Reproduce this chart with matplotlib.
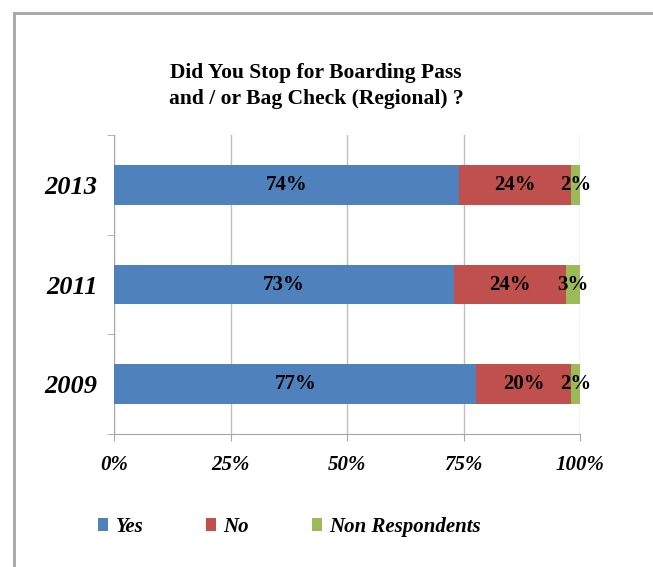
import matplotlib
matplotlib.use("Agg")
import matplotlib.pyplot as plt
from matplotlib.lines import Line2D
from matplotlib.patches import Patch
import numpy as np

years = ["2009", "2011", "2013"]
yes = [77, 73, 74]
no = [20, 24, 24]
non_resp = [2, 3, 2]

series_names = ["Yes", "No", "Non Respondents"]
colors = ["#4F81BD", "#C0504D", "#9BBB59"]

plt.rcParams["font.family"] = "Liberation Serif"

fig = plt.figure(figsize=(6.53, 5.67), dpi=100)
ax = fig.add_axes([114 / 653, 1 - 434 / 567, 466 / 653, 299 / 567])

# 100% stacked: each row scaled to its total
raw = np.array([yes, no, non_resp], dtype=float)
totals = raw.sum(axis=0)
shares = raw / totals * 100

ypos = np.arange(len(years))
left = np.zeros(len(years))
for i in range(len(series_names)):
    ax.barh(ypos, shares[i], left=left, height=0.4, color=colors[i],
            zorder=3, label=series_names[i])
    for j in range(len(years)):
        ax.text(left[j] + shares[i][j] / 2, ypos[j], f"{int(raw[i][j])}%",
                ha="center", va="center", fontsize=15, fontweight="bold",
                color="black", zorder=4)
    left += shares[i]

ax.set_xlim(0, 100)
ax.set_ylim(-0.5, 2.5)
ax.set_xticks([0, 25, 50, 75, 100])
ax.set_xticklabels(["0%", "25%", "50%", "75%", "100%"], fontsize=15,
                   fontweight="bold", fontstyle="italic")
ax.set_yticks(ypos)
ax.set_yticklabels(years, fontsize=19, fontweight="bold", fontstyle="italic")
ax.set_yticks([-0.5, 0.5, 1.5, 2.5], minor=True)

ax.tick_params(axis="y", which="major", length=0, pad=12)
ax.tick_params(axis="y", which="minor", length=5, color="#A6A6A6", direction="out")
ax.tick_params(axis="x", length=5, color="#A6A6A6", direction="out", pad=10)

ax.grid(axis="x", color="#BFBFBF", lw=1, zorder=0)
for s in ["top", "right"]:
    ax.spines[s].set_visible(False)
for s in ["left", "bottom"]:
    ax.spines[s].set_color("#A6A6A6")

fig.text(316 / 653, 1 - 86 / 567,
         "Did You Stop for Boarding Pass\nand / or Bag Check (Regional) ?",
         ha="center", va="center", fontsize=15.5, fontweight="bold",
         linespacing=1.35)

handles = [Patch(facecolor=c, edgecolor="none") for c in colors]
fig.legend(handles, series_names, loc="center left",
           bbox_to_anchor=(98 / 653, 1 - 527 / 567), ncol=3, frameon=False,
           borderpad=0, borderaxespad=0, handlelength=0.5, handleheight=0.6,
           handletextpad=0.35, columnspacing=3.0,
           prop={"family": "Liberation Serif", "size": 15, "weight": "bold",
                 "style": "italic"})

# outer frame (top and left edges visible)
fig.add_artist(Line2D([14 / 653, 14 / 653], [0, 1 - 13 / 567],
                      transform=fig.transFigure, color="#A6A6A6", lw=2))
fig.add_artist(Line2D([14 / 653, 1], [1 - 13 / 567, 1 - 13 / 567],
                      transform=fig.transFigure, color="#A6A6A6", lw=2))

fig.savefig("out.png", dpi=100)
